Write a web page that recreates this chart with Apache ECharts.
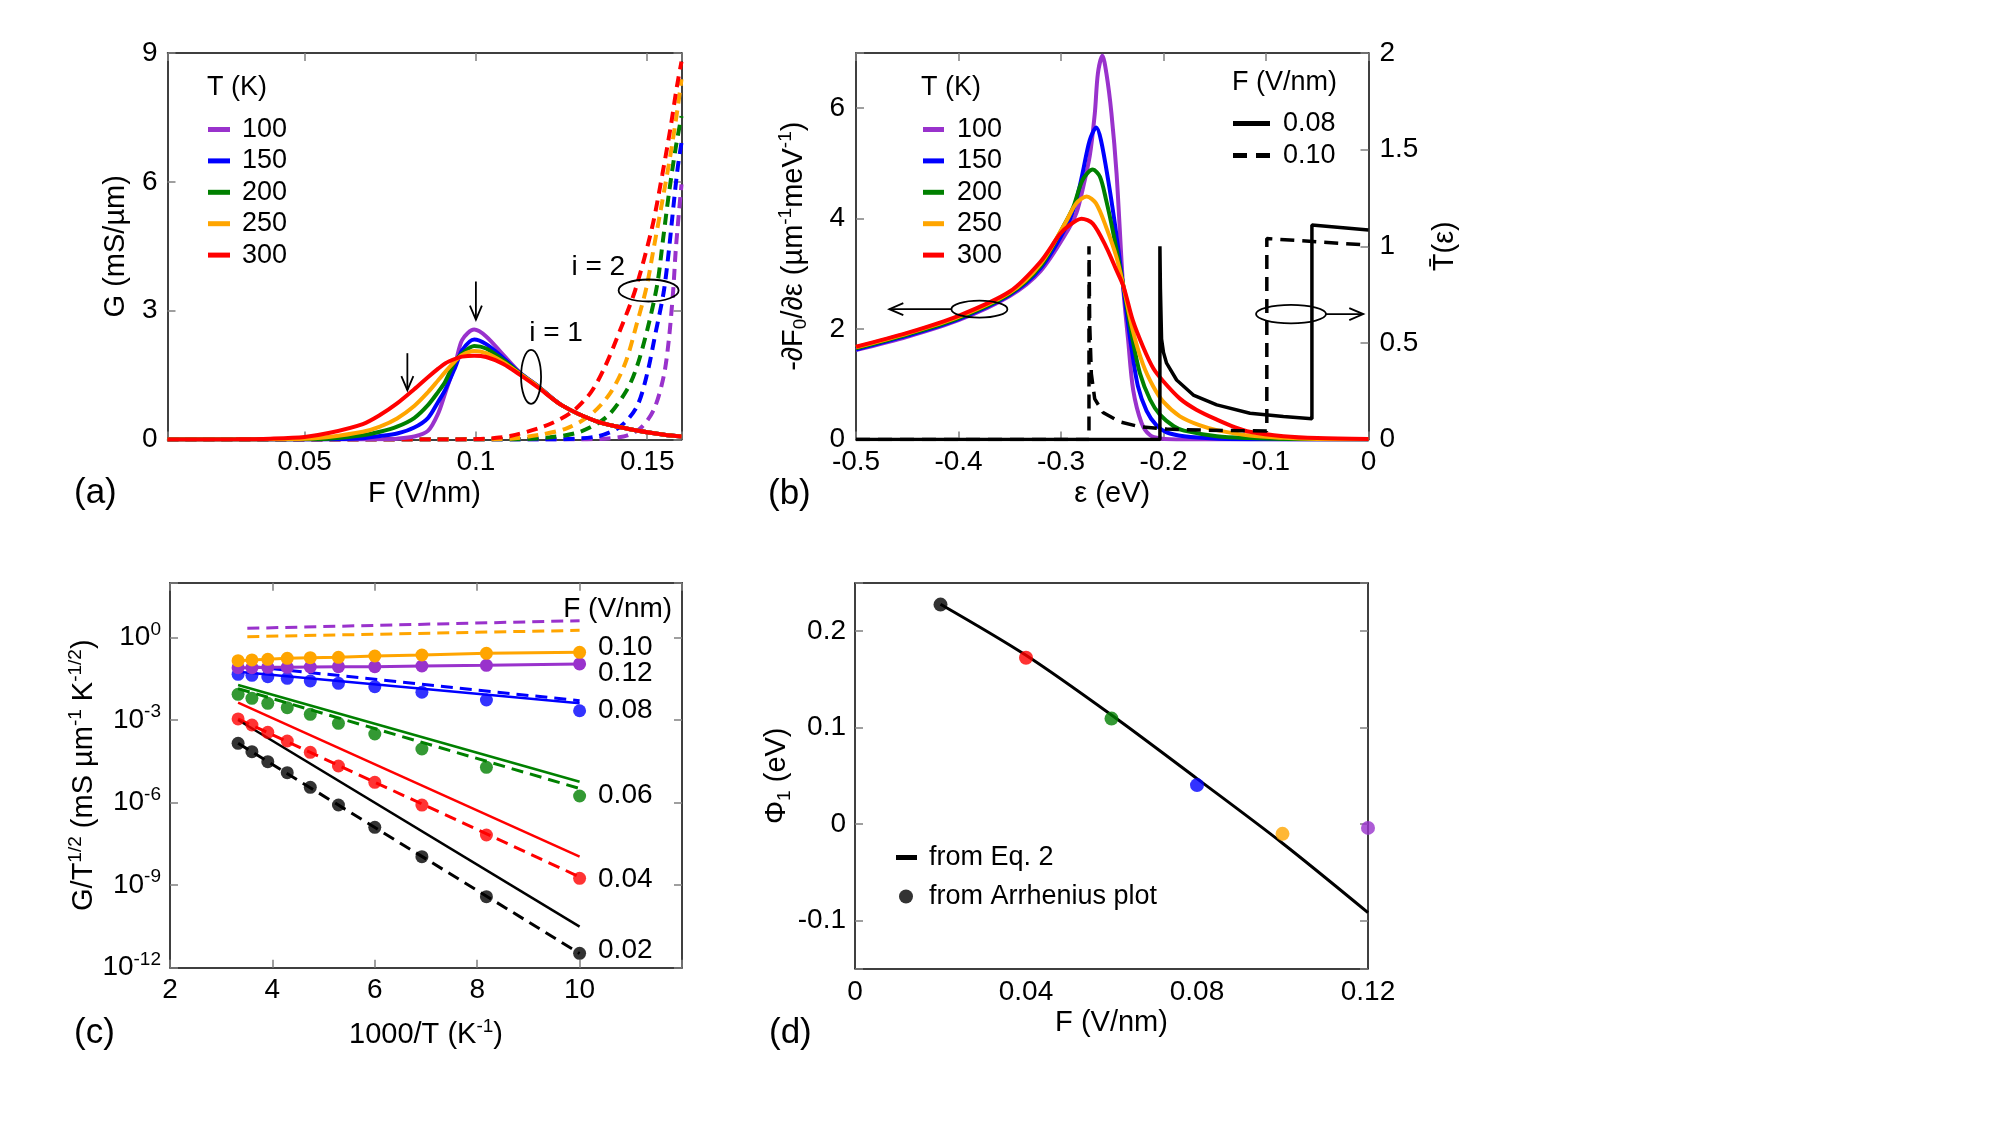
<!DOCTYPE html>
<html>
<head>
<meta charset="utf-8">
<script src="https://cdn.jsdelivr.net/npm/echarts@6/dist/echarts.min.js"></script>
<style>
  html, body { margin: 0; background: #fff; }
  #main { width: 2000px; height: 1125px; }
</style>
</head>
<body>
<div id="main"></div>
<script>
// ---------- data ----------
var tempsK = ['100', '150', '200', '250', '300'];

// (a) G vs F, i = 1 (solid)
var fieldA = [0.01, 0.03, 0.04, 0.05, 0.057, 0.067, 0.072, 0.077, 0.082, 0.086, 0.089, 0.091, 0.094, 0.096, 0.0995, 0.103, 0.108, 0.113, 0.118, 0.125, 0.135, 0.145, 0.155, 0.16];
var gOne100 = [0, 0, 0, 0, 0, 0, 0.005, 0.02, 0.07, 0.20, 0.61, 1.07, 1.77, 2.32, 2.56, 2.40, 1.97, 1.55, 1.25, 0.80, 0.43, 0.24, 0.11, 0.07];
var gOne150 = [0, 0, 0, 0, 0.005, 0.03, 0.08, 0.14, 0.28, 0.50, 0.88, 1.15, 1.69, 2.08, 2.33, 2.22, 1.90, 1.54, 1.25, 0.80, 0.43, 0.24, 0.11, 0.07];
var gOne200 = [0, 0, 0, 0.005, 0.02, 0.10, 0.18, 0.30, 0.50, 0.80, 1.11, 1.34, 1.83, 2.00, 2.18, 2.12, 1.85, 1.53, 1.24, 0.80, 0.43, 0.24, 0.11, 0.07];
var gOne250 = [0, 0, 0.005, 0.02, 0.06, 0.18, 0.30, 0.49, 0.78, 1.10, 1.38, 1.57, 1.83, 1.97, 2.06, 2.01, 1.80, 1.52, 1.24, 0.80, 0.43, 0.24, 0.11, 0.07];
var gOne300 = [0, 0.005, 0.02, 0.06, 0.15, 0.36, 0.57, 0.84, 1.17, 1.45, 1.65, 1.77, 1.88, 1.93, 1.95, 1.92, 1.76, 1.50, 1.22, 0.80, 0.43, 0.24, 0.11, 0.07];

// (a) G vs F, i = 2 (dashed), [F, G]
var gTwo100 = [[0.01, 0], [0.13, 0], [0.1431, 0.07], [0.148, 0.26], [0.1519, 0.69], [0.1548, 1.47], [0.1563, 2.32], [0.1576, 3.5], [0.1583, 4.39], [0.1592, 5.24], [0.16, 5.94]];
var gTwo150 = [[0.01, 0], [0.12, 0], [0.1353, 0.07], [0.1421, 0.30], [0.147, 0.77], [0.15, 1.54], [0.1524, 2.47], [0.1548, 3.43], [0.1563, 4.39], [0.1577, 5.47], [0.1589, 6.33], [0.16, 6.91]];
var gTwo200 = [[0.01, 0], [0.11, 0], [0.1216, 0.05], [0.1304, 0.18], [0.1382, 0.53], [0.1441, 1.16], [0.147, 1.70], [0.15, 2.55], [0.1529, 3.6], [0.1546, 4.65], [0.1563, 5.71], [0.1583, 6.79], [0.16, 7.53]];
var gTwo250 = [[0.01, 0], [0.10, 0], [0.11, 0.02], [0.1187, 0.11], [0.1265, 0.26], [0.1334, 0.57], [0.1392, 1.08], [0.1436, 1.78], [0.147, 2.71], [0.1498, 3.55], [0.1519, 4.46], [0.1544, 5.55], [0.1568, 6.64], [0.1589, 7.73], [0.16, 8.39]];
var gTwo300 = [[0.01, 0], [0.09, 0], [0.10, 0.01], [0.105, 0.03], [0.11, 0.08], [0.1197, 0.30], [0.1275, 0.61], [0.1334, 1.08], [0.1377, 1.70], [0.1421, 2.55], [0.1465, 3.48], [0.1514, 4.93], [0.1544, 6.17], [0.1568, 7.26], [0.1586, 8.19], [0.16, 8.80]];

// (b) -dF0/de vs energy, [eps, value]
var dF100 = [[-0.5, 1.62], [-0.45, 1.86], [-0.4, 2.16], [-0.35, 2.6], [-0.32, 3.05], [-0.293, 3.80], [-0.285, 4.10], [-0.279, 4.52], [-0.272, 5.13], [-0.267, 5.91], [-0.264, 6.63], [-0.2596, 6.95], [-0.2557, 6.63], [-0.2508, 5.91], [-0.2458, 4.82], [-0.2394, 2.77], [-0.2345, 1.80], [-0.2296, 0.90], [-0.2214, 0.30], [-0.2133, 0.08], [-0.2035, 0.02], [-0.18, 0], [0, 0]];
var dF150 = [[-0.5, 1.63], [-0.45, 1.88], [-0.4, 2.18], [-0.35, 2.62], [-0.32, 3.1], [-0.293, 3.92], [-0.285, 4.34], [-0.279, 4.82], [-0.272, 5.42], [-0.2655, 5.65], [-0.261, 5.42], [-0.254, 4.70], [-0.247, 3.85], [-0.241, 3.01], [-0.236, 2.29], [-0.231, 1.63], [-0.225, 0.97], [-0.2165, 0.52], [-0.207, 0.26], [-0.197, 0.13], [-0.18, 0.06], [-0.15, 0.02], [-0.1, 0.005], [0, 0]];
var dF200 = [[-0.5, 1.65], [-0.45, 1.9], [-0.4, 2.2], [-0.35, 2.64], [-0.32, 3.14], [-0.298, 3.85], [-0.288, 4.21], [-0.279, 4.70], [-0.269, 4.89], [-0.262, 4.76], [-0.256, 4.34], [-0.249, 3.74], [-0.239, 2.77], [-0.231, 1.9], [-0.223, 1.2], [-0.213, 0.72], [-0.2035, 0.45], [-0.19, 0.24], [-0.18, 0.16], [-0.148, 0.06], [-0.116, 0.025], [-0.083, 0.01], [0, 0]];
var dF250 = [[-0.5, 1.67], [-0.45, 1.92], [-0.4, 2.22], [-0.35, 2.66], [-0.32, 3.18], [-0.295, 3.95], [-0.285, 4.28], [-0.275, 4.40], [-0.266, 4.28], [-0.256, 3.85], [-0.246, 3.31], [-0.239, 2.77], [-0.23, 1.98], [-0.22, 1.36], [-0.21, 0.96], [-0.2, 0.68], [-0.184, 0.42], [-0.165, 0.26], [-0.148, 0.17], [-0.116, 0.07], [-0.083, 0.03], [-0.05, 0.01], [0, 0.003]];
var dF300 = [[-0.5, 1.68], [-0.45, 1.93], [-0.4, 2.24], [-0.35, 2.68], [-0.32, 3.22], [-0.301, 3.72], [-0.292, 3.88], [-0.28, 4.0], [-0.269, 3.91], [-0.256, 3.49], [-0.246, 3.07], [-0.239, 2.77], [-0.23, 2.16], [-0.22, 1.68], [-0.21, 1.29], [-0.2, 1.05], [-0.184, 0.74], [-0.168, 0.54], [-0.148, 0.36], [-0.13, 0.22], [-0.116, 0.14], [-0.083, 0.06], [-0.05, 0.025], [0, 0.01]];

// (b) transmission T(eps), [eps, T]
var trans008 = [[-0.5, 0], [-0.2035, 0], [-0.2035, 1.0], [-0.203, 0.78], [-0.2019, 0.52], [-0.2, 0.45], [-0.197, 0.395], [-0.1872, 0.308], [-0.1709, 0.23], [-0.148, 0.179], [-0.1156, 0.136], [-0.083, 0.119], [-0.0552, 0.107], [-0.0552, 1.11], [0, 1.084]];
var trans010 = [[-0.5, 0], [-0.2727, 0], [-0.2727, 1.0], [-0.272, 0.6], [-0.2704, 0.34], [-0.2671, 0.21], [-0.259, 0.14], [-0.243, 0.092], [-0.2231, 0.066], [-0.197, 0.054], [-0.1644, 0.049], [-0.1318, 0.046], [-0.0992, 0.044], [-0.0992, 1.04], [0, 1.006]];

// (c) Arrhenius plot
var invT = [3.33, 3.6, 3.91, 4.29, 4.74, 5.29, 6.0, 6.92, 8.18, 10.0];
var arrh002 = [1.44e-4, 7.18e-5, 3.10e-5, 1.24e-5, 3.62e-6, 8.24e-7, 1.27e-7, 1.09e-8, 3.82e-10, 3.33e-12];
var arrh004 = [1.11e-3, 6.68e-4, 3.62e-4, 1.75e-4, 6.79e-5, 2.16e-5, 5.5e-6, 8.2e-7, 6.7e-8, 1.78e-9];
var arrh006 = [8.75e-3, 6.25e-3, 4.12e-3, 2.85e-3, 1.64e-3, 7.7e-4, 3.15e-4, 8.97e-5, 1.94e-5, 1.75e-6];
var arrh008 = [0.0467, 0.0430, 0.0382, 0.0334, 0.0266, 0.0220, 0.0165, 0.0104, 0.00543, 0.00221];
var arrh010 = [0.146, 0.155, 0.163, 0.178, 0.188, 0.193, 0.216, 0.235, 0.270, 0.294];
var arrh012 = [0.0813, 0.0813, 0.0838, 0.0838, 0.0861, 0.0885, 0.0885, 0.0935, 0.0989, 0.111];
var lineEndsX = [3.33, 10];
var solid002 = [1.02e-3, 3.1e-11];
var dashed002 = [1.44e-4, 3.3e-12];
var solid004 = [4.34e-3, 1.09e-8];
var dashed004 = [1.11e-3, 2.0e-9];
var solid006 = [0.0191, 5.8e-6];
var dashed006 = [0.0141, 3.3e-6];
var solid008 = [0.0582, 0.00411];
var dashed008X = [3.6, 10];
var dashed008 = [0.09, 0.0051];
var dashedTopX = [3.51, 10];
var dashed010 = [1.09, 1.85];
var dashed012 = [2.19, 4.16];

// (d) barrier height vs field
var fieldD = [0.02, 0.04, 0.06, 0.08, 0.10, 0.12];
var phiEq2 = [0.228, 0.175, 0.113, 0.047, -0.02, -0.092];
var phiArrhenius = [0.2276, 0.1724, 0.1093, 0.0403, -0.0103, -0.0041];

// ---------- style ----------
var FONT = 'Liberation Sans, Arial, sans-serif';
var purple = '#9932cc', blue = '#0000ff', green = '#008000', orange = '#ffa500', red = '#ff0000';
var tempColors = [purple, blue, green, orange, red];
var fieldColorsD = ['#000000', red, green, blue, orange, purple];

var chart = echarts.init(document.getElementById('main'), null, { renderer: 'canvas' });

function ax(grid, pos, o) {
    var a = {
        gridIndex: grid, position: pos, type: 'value',
        axisLine: { show: true, onZero: false, lineStyle: { color: '#000', width: 1.5 } },
        axisTick: { show: true, inside: true, length: 8, lineStyle: { color: '#808080', width: 1.5 } },
        axisLabel: { show: false, color: '#000', fontSize: 28, fontFamily: FONT },
        splitLine: { show: false },
        nameTextStyle: { color: '#000', fontSize: 29, fontFamily: FONT }
    };
    for (var k in o) {
        if (o[k] && typeof o[k] === 'object' && !Array.isArray(o[k]) && a[k]) a[k] = Object.assign({}, a[k], o[k]);
        else a[k] = o[k];
    }
    return a;
}
var supRich = {
    sup: { fontSize: 19, fontFamily: FONT, padding: [0, 0, 16, 0] },
    sub: { fontSize: 19, fontFamily: FONT, padding: [14, 0, 0, 0] }
};
function onStep(step) {
    return function (v) {
        var r = v / step;
        return Math.abs(r - Math.round(r)) < 1e-6 ? String(+v.toFixed(3)) : '';
    };
}

var xAxes = [
    ax(0, 'bottom', { min: 0.01, max: 0.16, splitNumber: 3, axisLabel: { show: true, margin: 9, formatter: onStep(0.05) },
        name: 'F (V/nm)', nameLocation: 'middle', nameGap: 40 }),
    ax(0, 'top', { min: 0.01, max: 0.16, splitNumber: 3 }),
    ax(1, 'bottom', { min: -0.5, max: 0, interval: 0.1, axisLabel: { show: true, margin: 9 },
        name: 'ε (eV)', nameLocation: 'middle', nameGap: 40 }),
    ax(1, 'top', { min: -0.5, max: 0, interval: 0.1 }),
    ax(2, 'bottom', { min: 2, max: 12, interval: 2, axisLabel: { show: true, margin: 9, formatter: function (v) { return v === 12 ? '' : String(v); } },
        name: '1000/T (K{sup|-1})', nameLocation: 'middle', nameGap: 50, nameTextStyle: { rich: supRich } }),
    ax(2, 'top', { min: 2, max: 12, interval: 2 }),
    ax(3, 'bottom', { min: 0, max: 0.12, interval: 0.04, axisTick: { show: false }, axisLabel: { show: true, margin: 10 },
        name: 'F (V/nm)', nameLocation: 'middle', nameGap: 40 }),
    ax(3, 'top', { min: 0, max: 0.12, interval: 0.04, axisTick: { show: false } })
];

function logLabel(v) {
    var e = Math.round(Math.log(v) / Math.LN10);
    if (e > 0 || e % 3 !== 0) return '';
    return '{b|10}{e|' + e + '}';
}

var yAxes = [
    ax(0, 'left', { min: 0, max: 9, interval: 3, axisLabel: { show: true, margin: 10 },
        name: 'G (mS/µm)', nameLocation: 'middle', nameGap: 37, nameRotate: 90 }),
    ax(0, 'right', { min: 0, max: 9, interval: 3 }),
    ax(1, 'left', { min: 0, max: 7, interval: 2, axisLabel: { show: true, margin: 11, formatter: onStep(2) },
        name: '-∂F{sub|0}/∂ε (µm{sup|-1}meV{sup|-1})', nameLocation: 'middle', nameGap: 45, nameRotate: 90,
        nameTextStyle: { rich: supRich } }),
    ax(1, 'right', { min: 0, max: 2, interval: 0.5, axisLabel: { show: true, margin: 11 },
        name: 'T\u0304(ε)', nameLocation: 'middle', nameGap: 62, nameRotate: 90 }),
    ax(2, 'left', { type: 'log', logBase: 10, min: 1e-12, max: 100, interval: 3,
        axisLabel: { show: true, margin: 9, formatter: logLabel,
            rich: { b: { fontSize: 28, fontFamily: FONT, color: '#000' }, e: { fontSize: 19, fontFamily: FONT, color: '#000', padding: [0, 0, 16, 0] } } },
        name: 'G/T{sup|1/2} (mS µm{sup|-1} K{sup|-1/2})', nameLocation: 'middle', nameGap: 43, nameRotate: 90,
        nameTextStyle: { rich: supRich } }),
    ax(2, 'right', { type: 'log', logBase: 10, min: 1e-12, max: 100, interval: 3 }),
    ax(3, 'left', { min: -0.15, max: 0.25, splitNumber: 4, axisLabel: { show: true, margin: 9, formatter: onStep(0.1) },
        name: 'Φ{sub|1} (eV)', nameLocation: 'middle', nameGap: 55, nameRotate: 90, nameTextStyle: { rich: supRich } }),
    ax(3, 'right', { min: -0.15, max: 0.25, splitNumber: 4 })
];

// ---------- series ----------
var series = [];
var gTwo = [gTwo100, gTwo150, gTwo200, gTwo250, gTwo300];
var gOne = [gOne100, gOne150, gOne200, gOne250, gOne300];
tempsK.forEach(function (t, i) {
    series.push({
        type: 'line', name: 'i2 ' + t, xAxisIndex: 0, yAxisIndex: 0, data: gTwo[i],
        symbol: 'none', smooth: 0.3, lineStyle: { color: tempColors[i], width: 4, type: [11, 7] }, itemStyle: { color: tempColors[i] }
    });
});
tempsK.forEach(function (t, i) {
    series.push({
        type: 'line', name: t, xAxisIndex: 0, yAxisIndex: 0,
        data: fieldA.map(function (f, j) { return [f, gOne[i][j]]; }),
        symbol: 'none', smooth: 0.3, lineStyle: { color: tempColors[i], width: 4 }, itemStyle: { color: tempColors[i] }
    });
});

var dF = [dF100, dF150, dF200, dF250, dF300];
tempsK.forEach(function (t, i) {
    series.push({
        type: 'line', name: t, xAxisIndex: 2, yAxisIndex: 2, data: dF[i],
        symbol: 'none', smooth: 0.3, lineStyle: { color: tempColors[i], width: 4 }, itemStyle: { color: tempColors[i] }
    });
});
series.push({
    type: 'line', name: '0.08', xAxisIndex: 2, yAxisIndex: 3, data: trans008, symbol: 'none',
    lineStyle: { color: '#000', width: 3.5 }, itemStyle: { color: '#000' }
});
series.push({
    type: 'line', name: '0.10', xAxisIndex: 2, yAxisIndex: 3, data: trans010, symbol: 'none',
    lineStyle: { color: '#000', width: 3.5, type: [14, 8] }, itemStyle: { color: '#000' }
});

function pairs(xs, ys) { return xs.map(function (x, i) { return [x, ys[i]]; }); }
function cLine(xs, ys, color, dashed) {
    return {
        type: 'line', xAxisIndex: 4, yAxisIndex: 4, data: pairs(xs, ys), symbol: 'none',
        lineStyle: { color: color, width: dashed ? 3 : 2.5, type: dashed ? [12, 7] : 'solid' }
    };
}
function cDots(ys, color, joined) {
    return {
        type: joined ? 'line' : 'scatter', xAxisIndex: 4, yAxisIndex: 4, data: pairs(invT, ys),
        symbol: 'circle', symbolSize: 13, showSymbol: true,
        itemStyle: { color: color }, lineStyle: { color: color, width: 3 }, z: 4
    };
}
series.push(cLine(dashedTopX, dashed012, purple, true));
series.push(cLine(dashedTopX, dashed010, orange, true));
series.push(cLine(lineEndsX, solid008, blue, false));
series.push(cLine(dashed008X, dashed008, blue, true));
series.push(cLine(lineEndsX, solid006, green, false));
series.push(cLine(lineEndsX, dashed006, green, true));
series.push(cLine(lineEndsX, solid004, red, false));
series.push(cLine(lineEndsX, dashed004, red, true));
series.push(cLine(lineEndsX, solid002, '#000', false));
series.push(cLine(lineEndsX, dashed002, '#000', true));
series.push(cDots(arrh002, '#000', false));
series.push(cDots(arrh004, red, false));
series.push(cDots(arrh006, green, false));
series.push(cDots(arrh008, blue, false));
series.push(cDots(arrh012, purple, true));
series.push(cDots(arrh010, orange, true));

series.push({
    type: 'line', name: 'from Eq. 2', xAxisIndex: 6, yAxisIndex: 6, data: pairs(fieldD, phiEq2),
    symbol: 'none', smooth: 0.3, lineStyle: { color: '#000', width: 3 }, itemStyle: { color: '#000' }
});
series.push({
    type: 'scatter', name: 'from Arrhenius plot', xAxisIndex: 6, yAxisIndex: 6, symbolSize: 14,
    itemStyle: { color: '#000' },
    data: fieldD.map(function (f, i) { return { value: [f, phiArrhenius[i]], itemStyle: { color: fieldColorsD[i] } }; }),
    z: 4
});

var legendText = { fontSize: 27, fontFamily: FONT, color: '#000' };
function rectItems(names) { return names.map(function (n) { return { name: n, icon: 'rect' }; }); }
var dashIcon = 'path://M0,0H14V5H0Z M23,0H37V5H23Z';
var legends = [
    { data: rectItems(tempsK), orient: 'vertical', left: 208, top: 116, itemWidth: 22, itemHeight: 5, itemGap: 4.4, padding: 0,
        selectedMode: false, textStyle: Object.assign({ padding: [0, 0, 0, 7] }, legendText) },
    { data: rectItems(tempsK), orient: 'vertical', left: 923, top: 116, itemWidth: 21, itemHeight: 5, itemGap: 4.4, padding: 0,
        selectedMode: false, textStyle: Object.assign({ padding: [0, 0, 0, 8] }, legendText) },
    { data: [{ name: '0.08', icon: 'rect' }, { name: '0.10', icon: dashIcon }], orient: 'vertical', left: 1233, top: 110,
        itemWidth: 37, itemHeight: 5, itemGap: 5, padding: 0,
        selectedMode: false, textStyle: Object.assign({ padding: [0, 0, 0, 8] }, legendText) },
    { data: rectItems(['from Eq. 2']), left: 896, top: 844, itemWidth: 21, itemHeight: 5, padding: 0,
        selectedMode: false, textStyle: Object.assign({ padding: [0, 0, 0, 7] }, legendText) },
    { data: [{ name: 'from Arrhenius plot', icon: 'circle' }], left: 899, top: 883, itemWidth: 14, itemHeight: 14, padding: 0,
        selectedMode: false, textStyle: Object.assign({ padding: [0, 0, 0, 11] }, legendText) }
];

chart.setOption({
    animation: false,
    backgroundColor: '#fff',
    textStyle: { fontFamily: FONT },
    grid: [
        { left: 167.5, top: 53, width: 514, height: 386.5, outerBoundsMode: 'none' },
        { left: 856, top: 53, width: 512.5, height: 386.5, outerBoundsMode: 'none' },
        { left: 170, top: 582.7, width: 512, height: 385, outerBoundsMode: 'none' },
        { left: 855, top: 583, width: 513, height: 385.5, outerBoundsMode: 'none' }
    ],
    legend: legends,
    xAxis: xAxes,
    yAxis: yAxes,
    series: series
});

// ---------- annotations ----------
function pt(xi, yi, x, y) { return chart.convertToPixel({ xAxisIndex: xi, yAxisIndex: yi }, [x, y]); }
function txt(p, s, size, align) {
    return { type: 'text', x: p[0], y: p[1], z: 100,
        style: { text: s, fontSize: size || 28, fontFamily: FONT, fill: '#000', align: align || 'left', verticalAlign: 'middle' } };
}
function ring(p, rx, ry) {
    return { type: 'ellipse', z: 100, shape: { cx: p[0], cy: p[1], rx: rx, ry: ry }, style: { fill: null, stroke: '#000', lineWidth: 1.8 } };
}
function arrow(p0, p1) {
    var dx = p1[0] - p0[0], dy = p1[1] - p0[1], L = Math.sqrt(dx * dx + dy * dy), ux = dx / L, uy = dy / L;
    var h = 14, w = 6;
    return [
        { type: 'line', z: 100, shape: { x1: p0[0], y1: p0[1], x2: p1[0], y2: p1[1] }, style: { stroke: '#000', lineWidth: 1.8 } },
        { type: 'polyline', z: 100, shape: { points: [[p1[0] - ux * h - uy * w, p1[1] - uy * h + ux * w], [p1[0], p1[1]], [p1[0] - ux * h + uy * w, p1[1] - uy * h - ux * w]] },
            style: { stroke: '#000', fill: null, lineWidth: 1.8 } }
    ];
}

var g = [];
// panel letters and legend titles
g.push(txt([74, 493], '(a)', 35), txt([768, 494], '(b)', 35), txt([74, 1033], '(c)', 35), txt([769, 1033], '(d)', 35));
g.push(txt([207, 88], 'T (K)', 27), txt([921, 88], 'T (K)', 27), txt([1232, 83], 'F (V/nm)', 27));
// (a)
g = g.concat(arrow(pt(0, 0, 0.08, 2.01), pt(0, 0, 0.08, 1.15)));
g = g.concat(arrow(pt(0, 0, 0.1, 3.68), pt(0, 0, 0.1, 2.79)));
g.push(ring(pt(0, 0, 0.1161, 1.46), 10, 27), ring(pt(0, 0, 0.1504, 3.47), 30, 11));
g.push(txt(pt(0, 0, 0.1234, 2.48), 'i = 1', 28, 'center'), txt(pt(0, 0, 0.1357, 4.02), 'i = 2', 28, 'center'));
// (b)
var lc = pt(2, 2, -0.3796, 2.36);
g.push(ring(lc, 28, 8.5));
g = g.concat(arrow([lc[0] - 28, lc[1]], pt(2, 2, -0.4675, 2.36)));
var rc = pt(2, 3, -0.0756, 0.649);
g.push(ring(rc, 35, 9.2));
g = g.concat(arrow([rc[0] + 35, rc[1]], pt(2, 3, -0.0051, 0.649)));
// (c) field labels
g.push(txt(pt(4, 4, 9.68, Math.pow(10, 1.04)), 'F (V/nm)', 28));
[['0.10', -0.356], ['0.12', -1.295], ['0.08', -2.63], ['0.06', -5.745], ['0.04', -8.775], ['0.02', -11.38]].forEach(function (l) {
    g.push(txt(pt(4, 4, 10.36, Math.pow(10, l[1])), l[0], 28));
});

chart.setOption({ graphic: g });
</script>
</body>
</html>
